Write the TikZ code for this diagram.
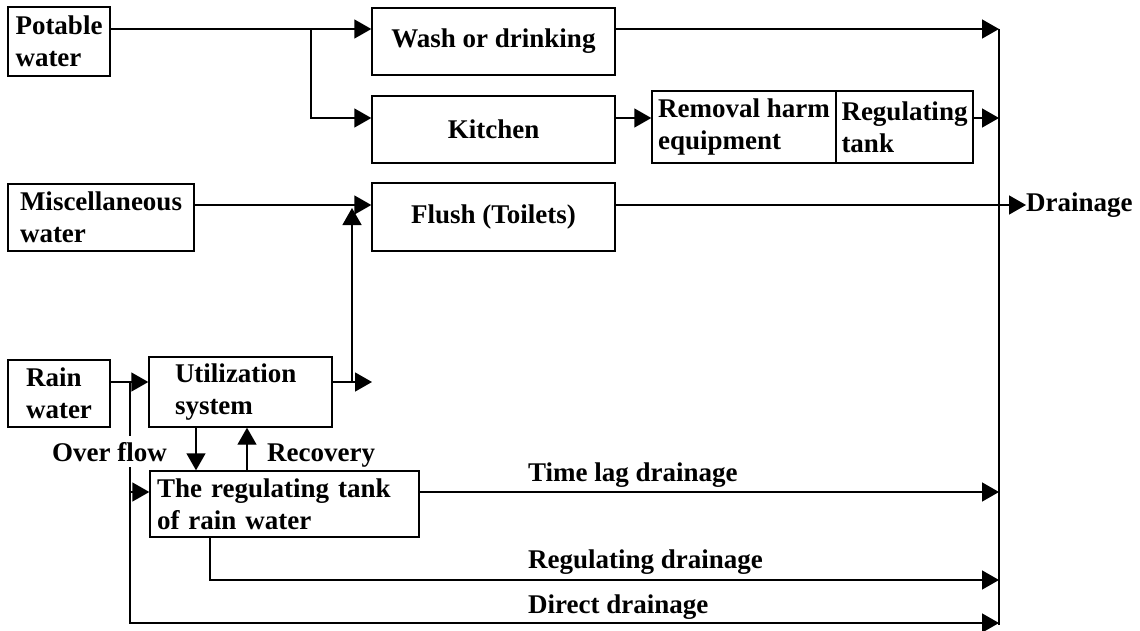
\documentclass[tikz,border=0pt]{standalone}
\usepackage{fontspec}
\setmainfont{Liberation Serif}
\usetikzlibrary{arrows.meta}
\begin{document}
\begin{tikzpicture}[x=1pt,y=-1pt,
  lbl/.style={font=\bfseries\fontsize{27}{32}\selectfont, inner sep=0pt},
  box/.style={draw, line width=1.4pt, lbl, align=left},
  cbox/.style={draw, line width=1.4pt, lbl, align=center},
  arr/.style={line width=1.4pt, -{Triangle[length=17pt,width=19pt]}},
  ln/.style={line width=1.4pt}]
\useasboundingbox (0,0) rectangle (1140,631);
% boxes
\node[box, minimum width=102, minimum height=69] (pot) at (59,41.5) {Potable\\water};
\node[cbox, minimum width=243, minimum height=67] (wash) at (493.5,41.5) {Wash or drinking};
\node[cbox, minimum width=243, minimum height=67] (kit) at (493.5,129.5) {Kitchen};
\node[box, minimum width=184, minimum height=72] (rem) at (744,127) {Removal harm\\equipment};
\node[box, minimum width=137, minimum height=72] (reg) at (904.5,127) {Regulating\\tank};
\node[box, minimum width=186, minimum height=67] (misc) at (101,217.5) {Miscellaneous\\water};
\node[cbox, minimum width=243, minimum height=68] (flush) at (493.5,217) {Flush (Toilets)};
\node[box, minimum width=102, minimum height=67] (rain) at (59,393.5) {Rain\\water};
\node[box, text width=131, inner xsep=26, minimum height=70] (util) at (240.5,392) {Utilization\\system};
\node[box, text width=255, inner xsep=7, minimum height=66] (tank) at (284.5,504) {The regulating tank\\of rain water};
% helper coordinates
\coordinate (yA) at (0,29);
\coordinate (yK) at (0,118);
\coordinate (yF) at (0,205);
\coordinate (yU) at (0,382);
\coordinate (yT) at (0,492);
\coordinate (yR) at (0,580);
\coordinate (yD) at (0,623);
\coordinate (xD) at (999,0);
\coordinate (xa) at (196,0);
\coordinate (xb) at (247,0);
\coordinate (xr) at (210,0);
\coordinate (j1) at (311,29);
\coordinate (drtop) at (999,29);
\coordinate (drbot) at (999,625);
\coordinate (dr) at (1026,205);
\coordinate (uo) at (372,382);
\coordinate (uj) at (352,382);
\coordinate (fj) at (352,208);
\coordinate (of) at (130,382);
% drainage collector
\draw[ln] (drtop) -- (drbot);
% potable water
\draw[arr] (pot.east |- j1) -- (wash.west |- j1);
\draw[arr] (j1) |- (kit.west |- yK);
\draw[arr] (wash.east |- yA) -- (drtop);
\draw[arr] (kit.east |- yK) -- (rem.west |- yK);
\draw[arr] (reg.east |- yK) -- (xD |- yK);
% miscellaneous / flush
\draw[arr] (misc.east |- yF) -- (flush.west |- yF);
\draw[arr] (flush.east |- yF) -- (dr);
\node[lbl, anchor=west] (drl) at (dr) {Drainage};
% rain water
\draw[arr] (rain.east |- yU) -- (util.west |- yU);
\draw[arr] (util.east |- yU) -- (uo);
\draw[arr] (uj) -- (fj);
\draw[arr] (of) |- (xD |- yD);
\draw[arr] (of |- yT) -- (tank.west |- yT);
\draw[arr] (util.south -| xa) -- (tank.north -| xa);
\draw[arr] (tank.north -| xb) -- (util.south -| xb);
\draw[arr] (tank.east |- yT) -- (xD |- yT);
\draw[arr] (tank.south -| xr) |- (xD |- yR);
% labels
\node[lbl, anchor=base west, fill=white, inner ysep=6pt] (ovl) at (52,461) {Over flow};
\node[lbl, anchor=base west] (rcl) at (267,461) {Recovery};
\node[lbl, anchor=base west] (tll) at (528,481) {Time lag drainage};
\node[lbl, anchor=base west] (rgl) at (528,568) {Regulating drainage};
\node[lbl, anchor=base west] (dil) at (528,613) {Direct drainage};
\end{tikzpicture}
\end{document}
